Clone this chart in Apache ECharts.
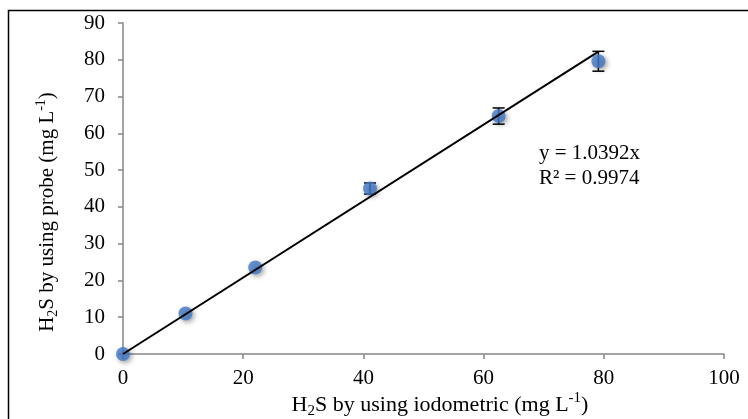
<!DOCTYPE html>
<html>
<head>
<meta charset="utf-8">
<script src="https://cdn.jsdelivr.net/npm/echarts@6/dist/echarts.min.js"></script>
<style>html,body{margin:0;padding:0;background:#fff;}#c{width:748px;height:419px;}</style>
</head>
<body>
<div id="c"></div>
<script>
// Data
const xValues = [0, 10.4, 22.0, 41.1, 62.5, 79.1];
const yValues = [0, 11.0, 23.5, 45.0, 64.7, 79.6];
const yErrors = [0, 0, 0, 1.5, 2.2, 2.7];
const trendX = [0, 79.1];
const trendY = [0, 82.2];
const xTicks = [0, 20, 40, 60, 80, 100];
const yTicks = [0, 10, 20, 30, 40, 50, 60, 70, 80, 90];
const equationLines = ['y = 1.0392x', 'R\u00B2 = 0.9974'];

const FONT = '"Liberation Serif", "Times New Roman", serif';
const chart = echarts.init(document.getElementById('c'), null, {renderer: 'canvas'});

const points = xValues.map((x, i) => [x, yValues[i]]);
const errData = xValues.map((x, i) => [x, yValues[i], yErrors[i]]);
const trendData = trendX.map((x, i) => [x, trendY[i]]);

function richFor(size) {
  const lh = Math.round(size * 1.25);
  const sub = Math.round(size * 0.66);
  return {
    a: {fontFamily: FONT, fontSize: size, color: '#000', lineHeight: lh},
    s: {fontFamily: FONT, fontSize: sub, color: '#000', lineHeight: lh, verticalAlign: 'bottom'},
    p: {fontFamily: FONT, fontSize: sub, color: '#000', lineHeight: lh, verticalAlign: 'top'}
  };
}

chart.setOption({
  animation: false,
  backgroundColor: '#fff',
  grid: {left: 123, right: 24, top: 23, bottom: 65, containLabel: false},
  xAxis: {
    type: 'value', min: xTicks[0], max: xTicks[xTicks.length - 1], interval: xTicks[1] - xTicks[0],
    axisLine: {show: true, lineStyle: {color: '#868686', width: 1.5}},
    axisTick: {show: true, inside: false, length: 5, lineStyle: {color: '#868686', width: 1.5}},
    axisLabel: {margin: 14, color: '#000', fontFamily: FONT, fontSize: 21},
    splitLine: {show: false}
  },
  yAxis: {
    type: 'value', min: yTicks[0], max: yTicks[yTicks.length - 1], interval: yTicks[1] - yTicks[0],
    axisLine: {show: true, lineStyle: {color: '#868686', width: 1.5}},
    axisTick: {show: true, inside: false, length: 5, lineStyle: {color: '#868686', width: 1.5}},
    axisLabel: {margin: 18, color: '#000', fontFamily: FONT, fontSize: 21},
    splitLine: {show: false}
  },
  graphic: [
    {type: 'rect', silent: true, z: 100, shape: {x: 8.5, y: 10.5, width: 900, height: 600},
     style: {fill: 'none', stroke: '#000', lineWidth: 1.5}},
    {type: 'text', x: 47, y: 212, rotation: Math.PI / 2, z: 100,
     style: {text: '{a|H}{s|2}{a|S by using probe (mg L}{p|-1}{a|)}', rich: richFor(21),
             align: 'center', verticalAlign: 'middle'}},
    {type: 'text', x: 440, y: 405, z: 100,
     style: {text: '{a|H}{s|2}{a|S by using iodometric (mg L}{p|-1}{a|)}', rich: richFor(22),
             align: 'center', verticalAlign: 'middle'}},
    {type: 'text', x: 539, y: 153, z: 100,
     style: {text: equationLines[0], fontFamily: FONT, fontSize: 21, fill: '#000',
             align: 'left', verticalAlign: 'middle'}},
    {type: 'text', x: 539, y: 178, z: 100,
     style: {text: equationLines[1], fontFamily: FONT, fontSize: 21, fill: '#000',
             align: 'left', verticalAlign: 'middle'}}
  ],
  series: [
    {
      type: 'custom', z: 1, silent: true,
      data: errData,
      renderItem: function (params, api) {
        const x = api.value(0), y = api.value(1), e = api.value(2);
        if (!e) return {type: 'group', children: []};
        const top = api.coord([x, y + e]);
        const bot = api.coord([x, y - e]);
        const hw = 6;
        const st = {stroke: '#000', lineWidth: 1.5};
        return {type: 'group', children: [
          {type: 'line', shape: {x1: top[0], y1: top[1], x2: bot[0], y2: bot[1]}, style: st},
          {type: 'line', shape: {x1: top[0] - hw, y1: top[1], x2: top[0] + hw, y2: top[1]}, style: st},
          {type: 'line', shape: {x1: bot[0] - hw, y1: bot[1], x2: bot[0] + hw, y2: bot[1]}, style: st}
        ]};
      }
    },
    {
      type: 'scatter', z: 2, data: points, symbol: 'circle', symbolSize: 14,
      itemStyle: {color: '#4178C4', shadowBlur: 5, shadowColor: 'rgba(0,0,0,0.45)', shadowOffsetX: 2, shadowOffsetY: 2},
      silent: true
    },
    {
      type: 'line', z: 3, data: trendData, symbol: 'none', silent: true,
      lineStyle: {color: '#000', width: 2}
    }
  ]
});
</script>
</body>
</html>
